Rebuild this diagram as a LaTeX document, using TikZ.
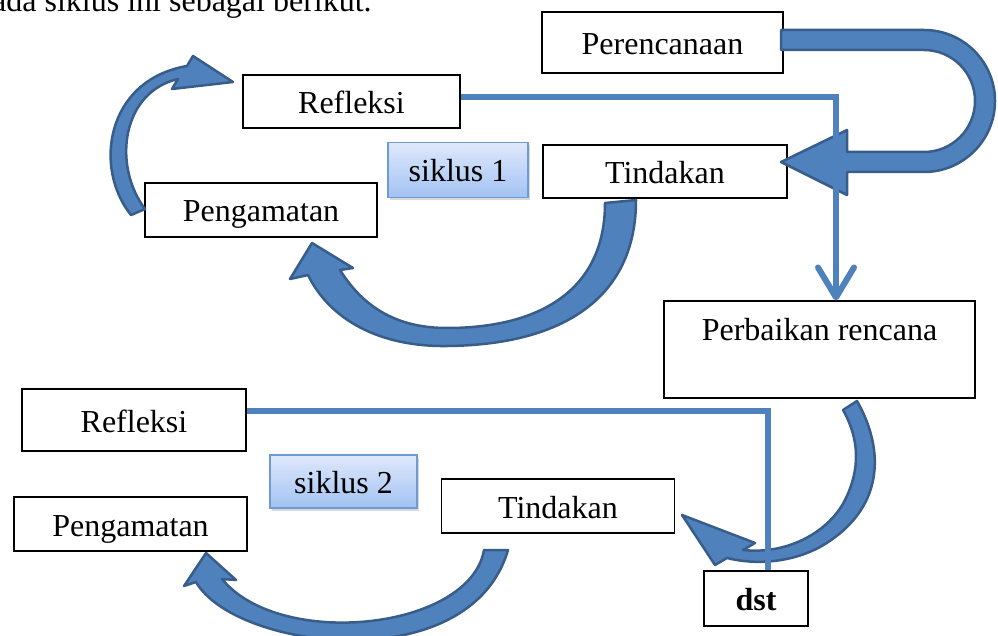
\documentclass[tikz,border=0pt]{standalone}
\usepackage{fontspec}
\setmainfont{Liberation Serif}
\usetikzlibrary{arrows.meta,shadows}
\definecolor{blkfill}{RGB}{79,129,189}
\definecolor{blkedge}{RGB}{56,93,138}
\definecolor{linecol}{RGB}{79,129,189}
\definecolor{siktop}{RGB}{223,233,251}
\definecolor{sikbot}{RGB}{162,194,243}
\definecolor{sikedge}{RGB}{112,154,212}
\tikzset{
  box/.style={draw, fill=white, line width=1.1pt, inner sep=0pt, text height=25pt, text depth=1pt},
  sikbox/.style={draw=sikedge, line width=1.5pt, top color=siktop, bottom color=sikbot, inner sep=0pt,
    text height=25pt, text depth=1pt, drop shadow={opacity=0.3, shadow xshift=1.5pt, shadow yshift=-3pt}},
  conn/.style={draw=linecol, line width=6pt},
  blk/.style={fill=blkfill, draw=blkedge, line width=2.5pt, line join=round}
}
\begin{document}
\begin{tikzpicture}[x=1pt, y=-1pt, font=\fontsize{32}{38}\selectfont]
        \useasboundingbox (0,0) rectangle (998,636);
        \node [anchor=base west, inner sep=0pt] (intro) at (-8,12) {ada siklus ini sebagai berikut.};

        \node [box, minimum width=241pt, minimum height=61pt] (ren) at (662.5,42.5) {Perencanaan};
        \node [box, minimum width=217pt, minimum height=53pt] (ref1) at (351.5,101.5) {Refleksi};
        \node [sikbox, minimum width=140pt, minimum height=55pt] (sik1) at (458,170) {siklus 1};
        \node [box, minimum width=244pt, minimum height=53pt] (tin1) at (665,171.5) {Tindakan};
        \node [box, minimum width=232pt, minimum height=54pt] (pen1) at (261,210) {Pengamatan};
        \node [box, minimum width=311pt, minimum height=97pt, text height=22pt, text depth=41pt] (perb) at (819.5,349.5) {Perbaikan rencana};
        \node [box, minimum width=224pt, minimum height=62pt] (ref2) at (134,420) {Refleksi};
        \node [sikbox, minimum width=147pt, minimum height=53pt] (sik2) at (343.5,481.5) {siklus 2};
        \node [box, minimum width=233pt, minimum height=54pt] (tin2) at (558,506) {Tindakan};
        \node [box, minimum width=233pt, minimum height=54pt] (pen2) at (130.5,524) {Pengamatan};
        \node [box, minimum width=104pt, minimum height=55pt] (dst) at (756,598.5) {\textbf{dst}};

        \draw[blk] (781,30) -- (924,30) arc[start angle=-90, end angle=90, radius=71] -- (847,172) -- (847,195)
            -- (781,162) -- (847,130) -- (847,152) -- (924,152) arc[start angle=90, end angle=-90, radius=51] -- (781,50) -- cycle;
        \draw[blk] (131,215) .. controls (93,168) and (106,80) .. (187,66) -- (193,56) -- (233,82) -- (172,89)
            -- (178,79) .. controls (122,92) and (112,165) .. (145,209) -- cycle;
        \draw[blk] (636,200) .. controls (636,300) and (560,345) .. (447,346) .. controls (380,347) and (330,320) .. (308,275)
            -- (290,279) -- (312,243) -- (353,268) -- (340,270) .. controls (365,310) and (400,328) .. (447,328)
            .. controls (540,328) and (605,290) .. (605,203) -- cycle;
        \draw[blk] (857,401) .. controls (885,450) and (885,510) .. (820,547) .. controls (790,563) and (755,565) .. (727,558)
            -- (715,565) -- (682,515) -- (755,543) -- (743,550) .. controls (790,555) and (830,530) .. (845,500)
            .. controls (860,470) and (860,440) .. (843,410) -- cycle;
        \draw[blk] (508,550) .. controls (470,680) and (235,650) .. (196,582) -- (184,586) -- (206,553) -- (236,580)
            -- (222,579) .. controls (280,650) and (470,630) .. (484,550) -- cycle;

        \coordinate (c1) at (836,97);
        \coordinate (c2) at (768,411);
        \draw[conn, -{Straight Barb[length=30pt, width=36pt, round]}] ([yshift=4.5pt]ref1.east) -| (perb.north -| c1);
        \draw[conn] ([yshift=9pt]ref2.east) -| (dst.north -| c2);
\end{tikzpicture}
\end{document}
